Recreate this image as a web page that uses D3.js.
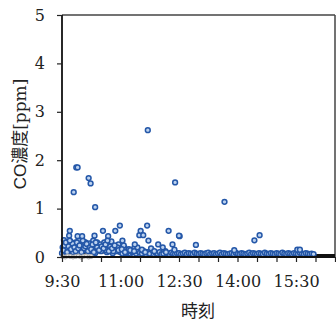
<!DOCTYPE html>
<html><head><meta charset="utf-8">
<script src="https://cdn.jsdelivr.net/npm/d3@7/dist/d3.min.js"></script>
<style>body{margin:0;background:#fff}</style></head>
<body><svg id="c" width="336" height="322"></svg>
<script>
// ---- data ----
const yTicks = [0, 1, 2, 3, 4, 5];
const xTickLabels = ["9:30", "11:00", "12:30", "14:00", "15:30"];
const xDomain = ["9:30", "16:30"];

// isolated readings (time, ppm)
const outlierTimes = ["9:48","9:52","9:54","10:11","10:14","10:21","11:42","12:24","13:40","12:31","12:56","13:55","14:26","14:34","15:32","15:36",
  "9:41","9:42","9:54","10:01","10:20","10:33","10:41","10:52","10:59","11:03","11:22","11:29","11:31","11:35","11:41","11:43","11:58","12:14","12:20","12:23","12:30","9:42","10:40"];
const outlierValues = [1.34,1.85,1.85,1.63,1.52,1.03,2.62,1.54,1.14,0.43,0.25,0.14,0.345,0.45,0.15,0.15,
  0.44,0.54,0.43,0.43,0.44,0.54,0.43,0.54,0.65,0.34,0.26,0.45,0.54,0.45,0.65,0.34,0.26,0.54,0.26,0.15,0.44,0.34,0.34];

// extra low-level readings in the morning cluster
const clusterTimes = ["9:31","9:33","9:35","9:37","9:39","9:43","9:45","9:47","9:50","9:56","9:58","10:03","10:05","10:07","10:09","10:12","10:16","10:18","10:23","10:25","10:29","10:35","10:38","10:44","10:46","10:49","10:55","11:05","11:09","11:13","11:17","11:26","11:33","11:38","11:47","11:52","12:05","12:10",
  "9:32","9:34","9:36","9:38","9:40","9:44","9:46","9:49","9:51","9:53","9:55","9:57","10:00","10:02","10:04","10:06","10:08","10:10","10:13","10:15","10:17","10:19","10:22","10:24","10:27","10:31","10:34","10:37","10:42","10:47","10:51","10:57","11:02","11:07","11:15","11:21"];
const clusterValues = [0.2,0.35,0.12,0.28,0.18,0.32,0.22,0.1,0.26,0.34,0.16,0.24,0.3,0.14,0.2,0.28,0.12,0.34,0.22,0.16,0.26,0.3,0.14,0.22,0.32,0.12,0.2,0.24,0.1,0.16,0.12,0.2,0.15,0.1,0.18,0.12,0.2,0.1,
  0.14,0.24,0.3,0.1,0.22,0.16,0.28,0.2,0.12,0.3,0.18,0.24,0.1,0.34,0.18,0.22,0.27,0.12,0.2,0.16,0.26,0.1,0.3,0.2,0.14,0.22,0.18,0.26,0.12,0.18,0.24,0.14,0.16,0.1,0.14,0.12];

// continuous readings every 3 minutes from 9:30
const bandStart = "9:30";
const bandStepMin = 3;
const bandValues = [
  0.08,0.15,0.22,0.3,0.12,0.25,0.18,0.3,0.1,0.22,
  0.28,0.15,0.3,0.2,0.12,0.26,0.18,0.08,0.3,0.22,
  0.12,0.2,0.28,0.1,0.16,0.24,0.08,0.18,0.12,0.26,
  0.1,0.07,0.2,0.08,0.14,0.07,0.1,0.18,0.07,0.12,
  0.09,0.07,0.12,0.06,0.1,0.07,0.15,0.06,0.09,0.07,
  0.1,0.06,0.07,0.12,0.07,0.06,0.09,0.07,0.06,0.08,
  0.08,0.06,0.07,0.09,0.06,0.08,0.07,0.06,0.09,0.07,
  0.06,0.08,0.07,0.06,0.08,0.09,0.06,0.07,0.08,0.06,
  0.07,0.09,0.06,0.08,0.07,0.06,0.07,0.08,0.06,0.09,
  0.07,0.06,0.08,0.07,0.06,0.07,0.09,0.06,0.08,0.07,
  0.06,0.08,0.07,0.06,0.09,0.07,0.06,0.08,0.07,0.06,
  0.08,0.07,0.06,0.09,0.07,0.06,0.08,0.07,0.06,0.08,
  0.07,0.06,0.09,0.07,0.06,0.08,0.07,0.06,0.07,0.06];

// reference sensor (black line) and zero readings (grey)
const blackTimes = ["9:30","9:50","10:10","10:30","11:00","11:30","12:00","12:30","13:30","14:30","15:30","16:00","16:30"];
const blackValues = [0.1,0.08,0.09,0.1,0.08,0.1,0.1,0.07,0.06,0.06,0.05,0.04,0.04];
const greyTimes = ["9:31","9:35","9:39","9:43","9:47","9:51","9:55","9:59","10:03","10:07","10:11","10:15"];
const greyValues = [0.01,0.0,0.02,0.01,0.0,0.01,0.02,0.0,0.01,0.02,0.0,0.01];

// ---- drawing ----
const parse = d3.timeParse("%H:%M");
const svg = d3.select("#c");
const L = 62, R = 335, T = 15, B = 257;
const x = d3.scaleTime().domain(xDomain.map(parse)).range([L, R]);
const y = d3.scaleLinear().domain([0, 5]).range([B, T]);
const serif = "'DejaVu Serif', serif";

// frame
svg.append("line").attr("x1", L).attr("x2", R).attr("y1", T).attr("y2", T).attr("stroke", "#444").attr("stroke-width", 1.5);
svg.append("line").attr("x1", R).attr("x2", R).attr("y1", T).attr("y2", B).attr("stroke", "#444").attr("stroke-width", 1.5);

// black series
const blk = blackTimes.map((t, i) => [parse(t), blackValues[i]]);
svg.append("path").attr("d", d3.line().x(d => x(d[0])).y(d => y(d[1]))(blk))
  .attr("fill", "none").attr("stroke", "#111").attr("stroke-width", 2);

// blue points
const start = parse(bandStart);
const pts = [];
bandValues.forEach((v, i) => pts.push([d3.timeMinute.offset(start, i * bandStepMin), v]));
clusterTimes.forEach((t, i) => pts.push([parse(t), clusterValues[i]]));
outlierTimes.forEach((t, i) => pts.push([parse(t), outlierValues[i]]));
svg.append("g").selectAll("circle").data(pts).join("circle")
  .attr("cx", d => x(d[0])).attr("cy", d => y(d[1])).attr("r", 2.4)
  .attr("fill", "#bcd2ef").attr("stroke", "#2457a8").attr("stroke-width", 1.5);

// grey points
const gr = greyTimes.map((t, i) => [parse(t), greyValues[i]]);
svg.append("g").selectAll("circle").data(gr).join("circle")
  .attr("cx", d => x(d[0])).attr("cy", d => y(d[1])).attr("r", 2)
  .attr("fill", "#ddd").attr("stroke", "#aaa").attr("stroke-width", 1);

// axes
const xTickVals = d3.timeMinute.every(30).range(parse("9:30"), d3.timeMinute.offset(parse("16:30"), 1));
const fmt = d3.timeFormat("%-H:%M");
const xa = svg.append("g").attr("transform", `translate(0,${B})`)
  .call(d3.axisBottom(x).tickValues(xTickVals).tickSize(5).tickPadding(14)
    .tickFormat(d => xTickLabels.includes(fmt(d)) ? fmt(d) : ""));
const ya = svg.append("g").attr("transform", `translate(${L},0)`)
  .call(d3.axisLeft(y).tickValues(yTicks).tickSize(5).tickPadding(12).tickFormat(d3.format("d")));
[xa, ya].forEach(a => {
  a.select(".domain").attr("stroke", "#111").attr("stroke-width", 1.8);
  a.selectAll(".tick line").attr("stroke", "#222").attr("stroke-width", 1.2);
  a.selectAll("text").attr("font-family", serif).attr("font-size", 16).attr("fill", "#222");
});
ya.select(".domain").attr("d", `M0,${B}V${T}`);
xa.select(".domain").attr("d", `M${L},0H${R}`);

// titles
svg.append("text").attr("x", 198).attr("y", 317).attr("text-anchor", "middle")
  .attr("font-family", "'Noto Sans CJK JP'").attr("font-size", 17).attr("fill", "#222").text("時刻");
const yl = svg.append("text").attr("transform", "translate(26,134) rotate(-90)").attr("text-anchor", "middle")
  .attr("font-size", 17).attr("fill", "#222");
yl.append("tspan").attr("font-family", "'Liberation Sans'").text("CO");
yl.append("tspan").attr("font-family", "'Noto Sans CJK JP'").text("濃度");
yl.append("tspan").attr("font-family", serif).text("[ppm]");
</script></body></html>
